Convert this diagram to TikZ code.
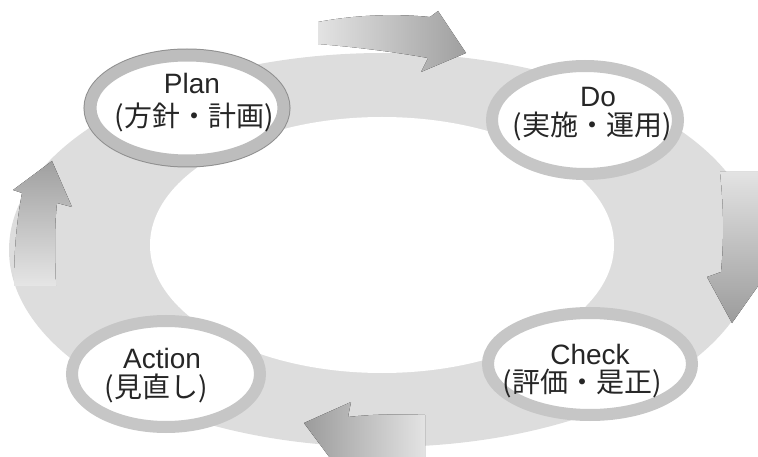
\documentclass[tikz,border=0pt]{standalone}
\usepackage{fontspec}
\setmainfont{Noto Sans CJK JP}
\newfontfamily\latfont{Liberation Sans}
\usetikzlibrary{shapes.geometric}
\tikzset{
  ring/.style={fill=gray!27},
  hole/.style={fill=white},
  stage/.style={ellipse, draw=gray!45, line width=12pt, fill=white, inner sep=0pt},
  stageplan/.style={stage, draw=gray!52, preaction={draw=gray!88, line width=14pt}},
  latlabel/.style={font=\latfont\fontsize{28}{28}\selectfont, inner sep=0pt,
    text height=20pt, text depth=0pt, text=black!85},
  jplabel/.style={font=\fontsize{28}{28}\selectfont, inner sep=0pt,
    text height=23pt, text depth=2pt, text=black!85},
  blockarrow/.style={draw=none}
}
\begin{document}
\begin{tikzpicture}[x=1pt,y=-1pt]
\useasboundingbox (0,0) rectangle (758,457);
% ring
\fill[ring] (383,250) ellipse [x radius=374, y radius=197];
\fill[hole] (382,245) ellipse [x radius=232, y radius=128];
% block arrows
\fill[blockarrow, left color=gray!22, right color=gray!75]
  (318,22) .. controls (360,14) and (400,14) .. (430,17) -- (438,11) -- (466,53)
  -- (421,72) -- (428,58) .. controls (395,52) and (355,47) .. (318,44) -- cycle;
\fill[blockarrow, top color=gray!22, bottom color=gray!78]
  (720,172) .. controls (724,210) and (724,240) .. (721,272) -- (707,277) -- (732,323)
  -- (775,262) -- (762,265) .. controls (765,235) and (765,205) .. (762,172) -- cycle;
\fill[blockarrow, left color=gray!78, right color=gray!22]
  (304,423) -- (351,402) -- (348,417) .. controls (375,414) and (400,414) .. (425,415)
  -- (425,465) -- (338,465) -- (330,458) -- cycle;
\fill[blockarrow, top color=gray!75, bottom color=gray!20]
  (52,161) -- (72,207) -- (57,203) .. controls (54,230) and (55,260) .. (56,286)
  -- (14,286) .. controls (14,255) and (16,225) .. (22,193) -- (13,190) -- cycle;
% stages
\node[stageplan, minimum width=193pt, minimum height=105pt] (plan) at (187,108) {};
\node[stage, minimum width=186pt, minimum height=108pt] (do) at (585,120) {};
\node[stage, minimum width=204pt, minimum height=102pt] (check) at (590,364) {};
\node[stage, minimum width=188pt, minimum height=106pt] (action) at (166,374) {};
% labels
\node[latlabel] (planL) at (192,84) {Plan};
\node[jplabel] (planJ) at (194,116) {(方針・計画)};
\node[latlabel] (doL) at (598,97) {Do};
\node[jplabel] (doJ) at (592,125) {(実施・運用)};
\node[latlabel] (checkL) at (590,354) {Check};
\node[jplabel] (checkJ) at (582,382) {(評価・是正)};
\node[latlabel] (actionL) at (162,358) {Action};
\node[jplabel] (actionJ) at (156,387) {(見直し)};
\end{tikzpicture}
\end{document}
